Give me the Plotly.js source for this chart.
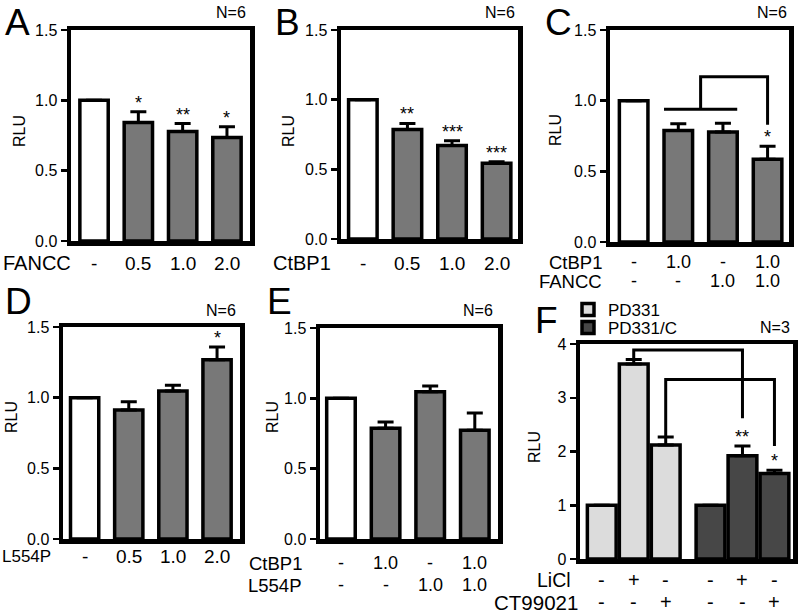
<!DOCTYPE html>
<html><head><meta charset="utf-8">
<script src="https://cdn.plot.ly/plotly-3.0.1.min.js"></script>
<style>html,body{margin:0;padding:0;background:#fff}#chart{width:799px;height:614px}</style>
</head><body><div id="chart"></div>
<script>
// ---------- DATA ----------
// Panel A
const labelsA = ['-', '0.5', '1.0', '2.0'];
const valuesA = [1.0, 0.842, 0.779, 0.736];
const errorsA = [0, 0.076, 0.056, 0.076];
const starsA = ['', '*', '**', '*'];
// Panel B
const labelsB = ['-', '0.5', '1.0', '2.0'];
const valuesB = [1.0, 0.786, 0.671, 0.543];
const errorsB = [0, 0.043, 0.034, 0.012];
const starsB = ['', '**', '***', '***'];
// Panel C
const ctbp1C = ['-', '1.0', '-', '1.0'];
const fanccC = ['-', '-', '1.0', '1.0'];
const valuesC = [1.0, 0.789, 0.779, 0.585];
const errorsC = [0, 0.047, 0.061, 0.093];
const starsC = ['', '', '', '*'];
const bracketC = [0.94, 1.17, 0.83];   // base level, top level, end level
// Panel D
const labelsD = ['-', '0.5', '1.0', '2.0'];
const valuesD = [1.0, 0.912, 1.048, 1.268];
const errorsD = [0, 0.059, 0.040, 0.091];
const starsD = ['', '', '', '*'];
// Panel E
const ctbp1E = ['-', '1.0', '-', '1.0'];
const l554pE = ['-', '-', '1.0', '1.0'];
const valuesE = [1.0, 0.787, 1.047, 0.773];
const errorsE = [0, 0.045, 0.041, 0.123];
const starsE = ['', '', '', ''];
// Panel F
const liclF = ['-', '+', '-', '-', '+', '-'];
const ct99021F = ['-', '-', '+', '-', '-', '+'];
const pd331 = [1.0, 3.63, 2.12];
const pd331Err = [0, 0.08, 0.15];
const pd331c = [1.0, 1.92, 1.59];
const pd331cErr = [0, 0.18, 0.06];
const starsF = ['', '**', '*'];
const bracketF1 = [3.74, 3.89, 2.62];
const bracketF2 = [2.27, 3.34, 2.10];

// ---------- LAYOUT HELPERS ----------
const W = 799, H = 614;
const FONT = 'Liberation Sans, Arial, Helvetica, sans-serif';
const px = x => x / W;
const py = y => 1 - y / H;
const GRAY = '#787878', WHITE = '#ffffff', LIGHT = '#dcdcdc', DARK = '#474747';

const traces = [];
const annotations = [];
const legendBase = {xanchor: 'left', yanchor: 'top', font: {size: 17, family: FONT, color: '#000'},
  bgcolor: 'rgba(0,0,0,0)', tracegroupgap: 0, itemclick: false, itemdoubleclick: false};
const layout = {
  width: W, height: H,
  margin: {l: 0, r: 0, t: 0, b: 0},
  paper_bgcolor: '#fff', plot_bgcolor: '#fff',
  font: {family: FONT, color: '#000'},
  showlegend: true,
  hovermode: false,
  bargap: 0,
  legend: Object.assign({x: px(568), y: py(292)}, legendBase),
  legend2: Object.assign({x: px(568), y: py(310)}, legendBase),
  annotations: annotations,
};

function axKey(i, a) { return a + 'axis' + (i > 1 ? i : ''); }
function axRef(i, a) { return a + (i > 1 ? i : ''); }

function setupPanel(i, box, xr, yr, ytv, ytt) {
  layout[axKey(i, 'x')] = {
    domain: [px(box[0]), px(box[1])], anchor: axRef(i, 'y'), range: xr,
    showline: true, linewidth: 4.5, linecolor: '#000', mirror: true,
    showticklabels: false, ticks: '', showgrid: false, zeroline: false, fixedrange: true
  };
  layout[axKey(i, 'y')] = {
    domain: [py(box[3]), py(box[2])], anchor: axRef(i, 'x'), range: yr,
    showline: true, linewidth: 4.5, linecolor: '#000', mirror: true,
    tickvals: ytv, ticktext: ytt, ticks: 'outside', ticklen: 6, tickwidth: 2.5, tickcolor: '#000',
    tickfont: {size: 16, family: FONT, color: '#000'},
    showgrid: false, zeroline: false, fixedrange: true
  };
}

function bars(i, xs, vals, errs, colors, name, legend, width) {
  traces.push({
    type: 'bar', x: xs, y: vals, width: width, name: name, showlegend: !!legend,
    legend: legend || 'legend',
    xaxis: axRef(i, 'x'), yaxis: axRef(i, 'y'),
    marker: {color: colors, line: {color: '#000', width: 3.5}},
    error_y: {type: 'data', symmetric: false, array: errs, arrayminus: errs.map(() => 0),
              color: '#000', thickness: 3, width: 8},
    hoverinfo: 'skip'
  });
}

function stars(i, xs, vals, errs, st) {
  st.forEach((s, k) => {
    if (!s) return;
    annotations.push({xref: axRef(i, 'x'), yref: axRef(i, 'y'), x: xs[k], y: vals[k] + errs[k],
      text: s, showarrow: false, yanchor: 'bottom', yshift: -3,
      font: {size: 18, family: FONT, color: '#000'}});
  });
}

function rowLabels(i, yPix, rightPix, title, labels, xs, titleSize, valSize) {
  annotations.push({xref: 'paper', yref: 'paper', x: px(rightPix), y: py(yPix), xanchor: 'right',
    yanchor: 'middle', text: title, showarrow: false, font: {size: titleSize, family: FONT, color: '#000'}});
  labels.forEach((l, k) => {
    annotations.push({xref: axRef(i, 'x'), yref: 'paper', x: xs[k], y: py(yPix), xanchor: 'center',
      yanchor: 'middle', text: l, showarrow: false, font: {size: valSize, family: FONT, color: '#000'}});
  });
}

function textAt(x, y, t, size, xanchor, angle) {
  annotations.push({xref: 'paper', yref: 'paper', x: px(x), y: py(y), xanchor: xanchor || 'center',
    yanchor: 'middle', text: t, showarrow: false, textangle: angle || 0,
    font: {size: size, family: FONT, color: '#000'}});
}

function bracketTrace(i, xsPath, ysPath) {
  traces.push({type: 'scatter', mode: 'lines', x: xsPath, y: ysPath, showlegend: false,
    xaxis: axRef(i, 'x'), yaxis: axRef(i, 'y'), line: {color: '#000', width: 3}, hoverinfo: 'skip'});
}

const idx4 = [0, 1, 2, 3];
const col4 = [WHITE, GRAY, GRAY, GRAY];
const yt15 = [0, 0.5, 1.0, 1.5], yt15t = ['0.0', '0.5', '1.0', '1.5'];
const BW = 0.64;

// Panel A
setupPanel(1, [71, 250, 30, 241], [-0.52, 3.52], [0, 1.5], yt15, yt15t);
bars(1, idx4, valuesA, errorsA, col4, 'A', null, BW);
stars(1, idx4, valuesA, errorsA, starsA);
rowLabels(1, 263, 73, 'FANCC', labelsA, idx4, 20, 19);
// Panel B
setupPanel(2, [341, 518, 30, 239], [-0.49, 3.48], [0, 1.5], yt15, yt15t);
bars(2, idx4, valuesB, errorsB, col4, 'B', null, BW);
stars(2, idx4, valuesB, errorsB, starsB);
rowLabels(2, 263, 333, 'CtBP1', labelsB, idx4, 20, 19);
// Panel C
setupPanel(3, [610, 789, 30, 242], [-0.53, 3.48], [0, 1.5], yt15, yt15t);
bars(3, idx4, valuesC, errorsC, col4, 'C', null, BW);
stars(3, idx4, valuesC, errorsC, starsC);
rowLabels(3, 262, 604, 'CtBP1', ctbp1C, idx4, 18.5, 18);
rowLabels(3, 281, 604, 'FANCC', fanccC, idx4, 18.5, 18);
bracketTrace(3,
  [1 - BW / 2, 2 + BW / 2, null, 1.5, 1.5, 3, 3],
  [bracketC[0], bracketC[0], null, bracketC[0], bracketC[1], bracketC[1], bracketC[2]]);
// Panel D
setupPanel(4, [63, 240, 327, 539], [-0.49, 3.52], [0, 1.5], yt15, yt15t);
bars(4, idx4, valuesD, errorsD, col4, 'D', null, BW);
stars(4, idx4, valuesD, errorsD, starsD);
rowLabels(4, 556, 53, 'L554P', labelsD, idx4, 17, 19);
// Panel E
setupPanel(5, [320, 498, 328, 539], [-0.47, 3.52], [0, 1.5], yt15, yt15t);
bars(5, idx4, valuesE, errorsE, col4, 'E', null, BW);
stars(5, idx4, valuesE, errorsE, starsE);
rowLabels(5, 563, 304, 'CtBP1', ctbp1E, idx4, 18.5, 18);
rowLabels(5, 585, 304, 'L554P', l554pE, idx4, 18.5, 18);
// Panel F
const GAP_F = 0.4;
const xLight = pd331.map((_, k) => k);
const xDark = pd331c.map((_, k) => k + pd331.length + GAP_F);
const xAllF = xLight.concat(xDark);
setupPanel(6, [580, 793, 344, 559], [-0.68, 5.98], [0, 4], [0, 1, 2, 3, 4], ['0', '1', '2', '3', '4']);
bars(6, xLight, pd331, pd331Err, LIGHT, 'PD331', 'legend', 0.9);
bars(6, xDark, pd331c, pd331cErr, DARK, 'PD331/C', 'legend2', 0.9);
stars(6, xDark, pd331c, pd331cErr, starsF);
rowLabels(6, 580, 573, 'LiCl', liclF, xAllF, 19.5, 20);
rowLabels(6, 602, 580, 'CT99021', ct99021F, xAllF, 20.5, 20);
bracketTrace(6,
  [xLight[1], xLight[1], xDark[1], xDark[1]],
  [bracketF1[0], bracketF1[1], bracketF1[1], bracketF1[2]]);
bracketTrace(6,
  [xLight[2], xLight[2], xDark[2], xDark[2]],
  [bracketF2[0], bracketF2[1], bracketF2[1], bracketF2[2]]);

// Y titles, N labels, panel letters
[[19, 131], [288, 131], [555, 130], [11, 417], [272, 417], [534, 447]].forEach(p =>
  textAt(p[0], p[1], 'RLU', 16, 'center', -90));
[[248, 12, 'N=6'], [517, 12, 'N=6'], [789, 12, 'N=6'], [238, 310, 'N=6'], [495, 310, 'N=6'], [792, 327, 'N=3']]
  .forEach(p => textAt(p[0], p[1], p[2], 16, 'right'));
[[3, 22, 'A'], [273, 22, 'B'], [543, 22, 'C'], [3, 301, 'D'], [265, 301, 'E'], [533, 320, 'F']]
  .forEach(p => textAt(p[0], p[1], p[2], 37, 'left'));

Plotly.newPlot('chart', traces, layout, {staticPlot: true, displayModeBar: false});
</script></body></html>
